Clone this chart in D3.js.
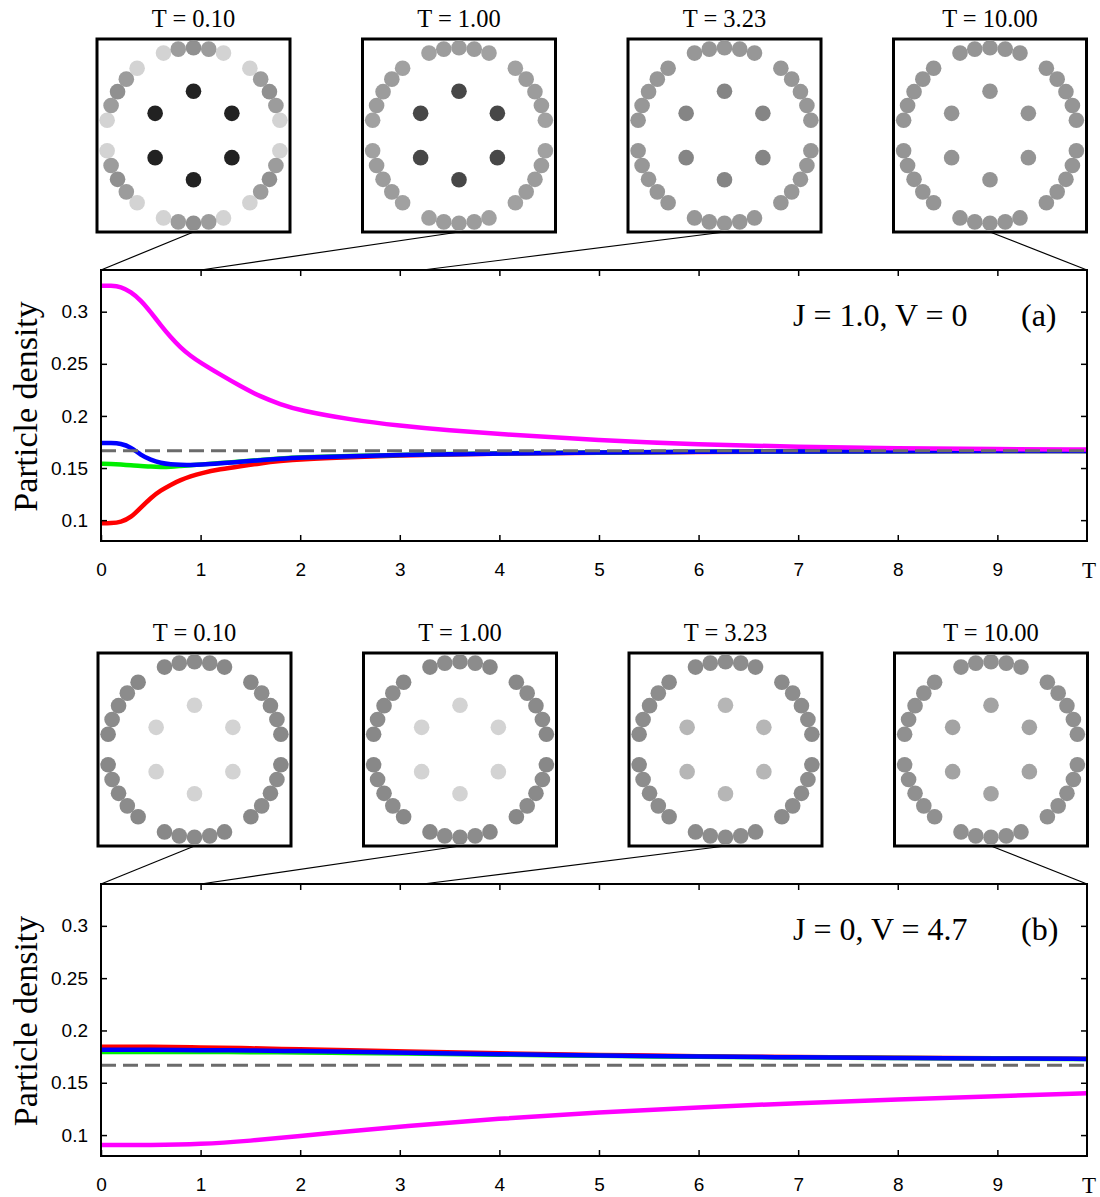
<!DOCTYPE html>
<html>
<head>
<meta charset="utf-8">
<script src="https://cdn.jsdelivr.net/npm/d3@7"></script>
<style>
	body { margin: 0; background: #fff; }
	svg { display: block; }
	.serif { font-family: "Liberation Serif", "Times New Roman", serif; }
	.sans { font-family: "Liberation Sans", Arial, sans-serif; }
</style>
</head>
<body>
<div id="chart"></div>
<script>
// ---- panel (a): J = 1.0, V = 0
const time_a = [0, 0.1, 0.2, 0.3, 0.4, 0.5, 0.6, 0.7, 0.8, 0.9, 1.0, 1.2, 1.4, 1.6, 1.8, 2.0, 2.5, 3, 3.5, 4, 5, 6, 7, 8, 9, 9.9];
const magenta_a = [0.325, 0.325, 0.324, 0.319, 0.311, 0.2995, 0.287, 0.2755, 0.2655, 0.2575, 0.251, 0.2395, 0.2285, 0.2185, 0.2112, 0.2052, 0.1965, 0.1905, 0.186, 0.1825, 0.1765, 0.1725, 0.1703, 0.169, 0.1682, 0.1677];
const blue_a = [0.174, 0.174, 0.1735, 0.170, 0.1625, 0.1578, 0.1548, 0.1535, 0.153, 0.153, 0.1532, 0.1545, 0.156, 0.1575, 0.159, 0.160, 0.1615, 0.1625, 0.1633, 0.164, 0.165, 0.1656, 0.166, 0.1662, 0.1663, 0.1664];
const green_a = [0.154, 0.154, 0.1535, 0.1525, 0.152, 0.1513, 0.151, 0.1512, 0.152, 0.1527, 0.1534, 0.1548, 0.1563, 0.1578, 0.1592, 0.1602, 0.1616, 0.1626, 0.1634, 0.164, 0.165, 0.1656, 0.166, 0.1662, 0.1663, 0.1664];
const red_a = [0.097, 0.097, 0.098, 0.1025, 0.112, 0.1215, 0.1285, 0.134, 0.1385, 0.142, 0.145, 0.149, 0.1518, 0.1545, 0.1567, 0.1585, 0.1605, 0.162, 0.163, 0.1638, 0.1648, 0.1655, 0.1659, 0.1661, 0.1663, 0.1664];

// ---- panel (b): J = 0, V = 4.7
const time_b = [0, 0.5, 1, 1.5, 2, 2.5, 3, 4, 5, 6, 7, 8, 9, 9.9];
const magenta_b = [0.0905, 0.0905, 0.0912, 0.0945, 0.0990, 0.1037, 0.1083, 0.1158, 0.1218, 0.1266, 0.1306, 0.1340, 0.1372, 0.1400];
const blue_b = [0.1815, 0.1815, 0.1812, 0.1808, 0.1803, 0.1796, 0.1788, 0.1773, 0.1760, 0.1750, 0.1743, 0.1737, 0.1732, 0.1728];
const green_b = [0.1795, 0.1795, 0.1795, 0.1793, 0.1790, 0.1786, 0.1780, 0.1768, 0.1757, 0.1748, 0.1742, 0.1736, 0.1731, 0.1727];
const red_b = [0.1845, 0.1844, 0.1838, 0.1830, 0.1820, 0.1810, 0.1800, 0.1781, 0.1766, 0.1754, 0.1745, 0.1739, 0.1733, 0.1729];

// uniform filling 1/6 (dashed line)
const uniform_density = 1 / 6;

// ---- snapshots shown above each panel
const inset_times = [0.10, 1.00, 3.23, 10.00];
const inset_mark_t = [0, 1, 3.23, 10];
// site densities: inner hexagon, middle of outer arc, next to middle, arc ends
const inner_a = [0.325, 0.251, 0.189, 0.1675];
const center_a = [0.174, 0.1532, 0.1627, 0.1664];
const side_a = [0.154, 0.1534, 0.1627, 0.1664];
const edge_a = [0.097, 0.145, 0.1622, 0.1664];
const inner_b = [0.0905, 0.0912, 0.109, 0.1402];
const center_b = [0.1815, 0.1812, 0.1785, 0.1728];
const side_b = [0.1795, 0.1795, 0.178, 0.1727];
const edge_b = [0.1845, 0.1838, 0.180, 0.1729];

const x_ticks = [0, 1, 2, 3, 4, 5, 6, 7, 8, 9];
const y_ticks = [0.1, 0.15, 0.2, 0.25, 0.3];

const width = 1100;
const height = 1197;

const svg = d3.select("#chart").append("svg")
	.attr("width", width)
	.attr("height", height);

// density -> grey shade of a site
const grey = d3.scaleLinear()
	.domain([0.1, 0.11, 0.165, 0.19, 0.25, 0.325])
	.range(["#d3d3d3", "#b3b3b3", "#969696", "#848484", "#484848", "#222222"])
	.clamp(true);

function seriesOf(t, v) {
	return t.map(function(d, i) { return [d, v[i]]; });
}

const panels = [
	{
		top: 270, bottom: 541, box_left: 97, label: "J = 1.0, V = 0", tag: "(a)",
		series: [
			{color: "#ff0000", data: seriesOf(time_a, red_a)},
			{color: "#00ee00", data: seriesOf(time_a, green_a)},
			{color: "#0000ff", data: seriesOf(time_a, blue_a)},
			{color: "#ff00ff", data: seriesOf(time_a, magenta_a)}
		],
		sites: {inner: inner_a, center: center_a, side: side_a, edge: edge_a}
	},
	{
		top: 884, bottom: 1156, box_left: 98, label: "J = 0, V = 4.7", tag: "(b)",
		series: [
			{color: "#ff0000", data: seriesOf(time_b, red_b)},
			{color: "#00ee00", data: seriesOf(time_b, green_b)},
			{color: "#0000ff", data: seriesOf(time_b, blue_b)},
			{color: "#ff00ff", data: seriesOf(time_b, magenta_b)}
		],
		sites: {inner: inner_b, center: center_b, side: side_b, edge: edge_b}
	}
];

panels.forEach(drawPanel);

function drawPanel(p) {
	const left = 101, right = 1087;
	const x = d3.scaleLinear().domain([0, 9.9]).range([left, right]);
	const y = d3.scaleLinear().domain([0.08, 0.34]).range([p.bottom, p.top]);
	const g = svg.append("g");

	// curves
	const line = d3.line()
		.x(function(d) { return x(d[0]); })
		.y(function(d) { return y(d[1]); })
		.curve(d3.curveBasis);

	p.series.forEach(function(s) {
		g.append("path")
			.attr("d", line(s.data))
			.attr("fill", "none")
			.attr("stroke", s.color)
			.attr("stroke-width", 4.5);
	});

	g.append("line")
		.attr("x1", x(0)).attr("x2", x(9.9))
		.attr("y1", y(uniform_density)).attr("y2", y(uniform_density))
		.attr("stroke", "#6b6b6b")
		.attr("stroke-width", 3)
		.attr("stroke-dasharray", "15,7");

	// axes, ticks pointing inward on all four sides
	g.append("g")
		.attr("class", "sans")
		.attr("transform", "translate(" + left + ",0)")
		.call(d3.axisLeft(y).tickValues(y_ticks).tickSize(-6).tickPadding(13).tickFormat(d3.format("")))
		.call(styleAxis);

	g.append("g")
		.attr("class", "sans")
		.attr("transform", "translate(0," + p.bottom + ")")
		.call(d3.axisBottom(x).tickValues(x_ticks).tickSize(-6).tickPadding(22).tickFormat(d3.format("d")))
		.call(styleAxis);

	g.append("g")
		.attr("transform", "translate(0," + p.top + ")")
		.call(d3.axisTop(x).tickValues(x_ticks.slice(1)).tickSize(-6).tickFormat(""))
		.call(styleAxis);

	g.append("g")
		.attr("transform", "translate(" + right + ",0)")
		.call(d3.axisRight(y).tickValues(y_ticks).tickSize(-6).tickFormat(""))
		.call(styleAxis);

	g.append("rect")
		.attr("x", left).attr("y", p.top)
		.attr("width", right - left).attr("height", p.bottom - p.top)
		.attr("fill", "none")
		.attr("stroke", "#000")
		.attr("stroke-width", 2);

	g.append("text")
		.attr("class", "serif")
		.attr("x", right + 2).attr("y", p.bottom + 37)
		.attr("text-anchor", "middle")
		.attr("font-size", 23)
		.text("T");

	g.append("text")
		.attr("class", "serif")
		.attr("transform", "translate(37," + ((p.top + p.bottom) / 2 + 1) + ") rotate(-90)")
		.attr("text-anchor", "middle")
		.attr("font-size", 34)
		.text("Particle density");

	g.append("text")
		.attr("class", "serif")
		.attr("x", 793).attr("y", p.top + 56)
		.attr("font-size", 32)
		.text(p.label);

	g.append("text")
		.attr("class", "serif")
		.attr("x", 1021).attr("y", p.top + 56)
		.attr("font-size", 32)
		.text(p.tag);

	// snapshots + connector lines
	const xc = x.copy().clamp(true);
	const box_size = 193;
	const box_top = p.top - 231;

	inset_times.forEach(function(t, i) {
		const bx = p.box_left + i * 265.5;
		const cx = bx + box_size / 2;
		const cy = box_top + box_size / 2;
		const ig = svg.append("g");

		ig.append("line")
			.attr("x1", cx).attr("y1", box_top + box_size)
			.attr("x2", xc(inset_mark_t[i])).attr("y2", p.top)
			.attr("stroke", "#000")
			.attr("stroke-width", 1.2);

		ig.append("rect")
			.attr("x", bx).attr("y", box_top)
			.attr("width", box_size).attr("height", box_size)
			.attr("fill", "#fff")
			.attr("stroke", "#000")
			.attr("stroke-width", 3);

		ig.append("text")
			.attr("class", "serif")
			.attr("x", cx).attr("y", box_top - 12)
			.attr("text-anchor", "middle")
			.attr("font-size", 24.5)
			.text("T = " + d3.format(".2f")(t));

		// outer ring: 36 slots at 10 deg, every slot at 30 + 60k left empty
		const sites = [];
		for (let a = 0; a < 360; a += 10) {
			const m = a % 60;
			if (m === 30) continue;
			const kind = (m === 0) ? "center" : (m === 10 || m === 50) ? "side" : "edge";
			sites.push({a: a, r: 87.7, kind: kind});
		}
		for (let a = 0; a < 360; a += 60) {
			sites.push({a: a, r: 44.3, kind: "inner"});
		}

		ig.selectAll("circle")
			.data(sites)
			.enter().append("circle")
			.attr("cx", function(d) { return cx + d.r * Math.sin(d.a * Math.PI / 180); })
			.attr("cy", function(d) { return cy - d.r * Math.cos(d.a * Math.PI / 180); })
			.attr("r", 7.8)
			.attr("fill", function(d) { return grey(p.sites[d.kind][i]); });
	});
}

function styleAxis(sel) {
	sel.select(".domain").remove();
	sel.selectAll(".tick line").attr("stroke", "#000").attr("stroke-width", 1.5);
	sel.selectAll(".tick text").attr("fill", "#000").attr("font-size", 19);
}
</script>
</body>
</html>
